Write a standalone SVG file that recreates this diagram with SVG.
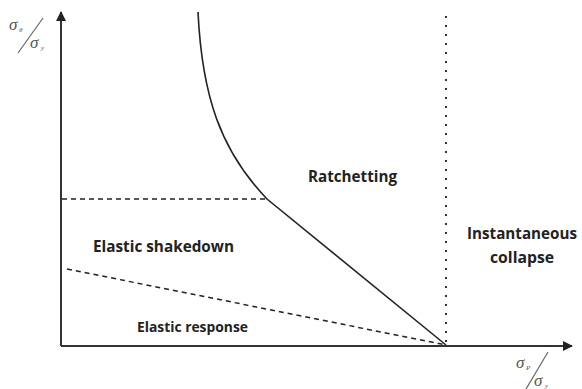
<svg xmlns="http://www.w3.org/2000/svg" width="582" height="389" viewBox="0 0 582 389">
<style>
.lbl{font-family:"Open Sans","Liberation Sans",sans-serif;font-weight:bold;fill:#222}
.sym{font-family:"Liberation Serif",serif;font-style:italic;fill:#555}
.dash{stroke:#222;stroke-width:1.5;fill:none;stroke-dasharray:5 4}
.dot{stroke:#333;stroke-width:2;fill:none;stroke-dasharray:2 7}
.solid{stroke:#222;stroke-width:1.6;fill:none}
.axis{stroke:#333;stroke-width:2;fill:none}
</style>
<defs>
<marker id="arr" viewBox="0 0 10 10" refX="9" refY="5" markerWidth="5" markerHeight="5" orient="auto" markerUnits="strokeWidth">
<path d="M0,0 L10,5 L0,10 z" fill="#222"/>
</marker>
</defs>
<g id="connectors">
<path id="y-axis" class="axis" d="M61,346 L61,12" marker-end="url(#arr)"/>
<path id="x-axis" class="axis" d="M61,346 L572,346" marker-end="url(#arr)"/>
<path id="collapse-limit" class="dot" d="M446,16 L446,345"/>
<path id="shakedown-limit" class="dash" d="M62,199 L267,199"/>
<path id="elastic-limit" class="dash" d="M67,269 L446,345"/>
<path id="ratchet-boundary" class="solid" d="M198,12 C202,95 220,150 267,199 L446,345"/>
</g>
<g id="axis-labels">
<g id="y-label">
<text class="sym" x="9" y="30" font-size="17">σ</text>
<text class="sym" x="19" y="32" font-size="7">θ</text>
<line x1="18" y1="53" x2="43" y2="18" stroke="#666" stroke-width="1.2"/>
<text class="sym" x="30" y="48" font-size="17">σ</text>
<text class="sym" x="41" y="50" font-size="7">y</text>
</g>
<g id="x-label">
<text class="sym" x="516" y="368" font-size="17">σ</text>
<text class="sym" x="526" y="370" font-size="7">P</text>
<line x1="526" y1="389" x2="548" y2="352" stroke="#666" stroke-width="1.2"/>
<text class="sym" x="534" y="386" font-size="17">σ</text>
<text class="sym" x="545" y="388" font-size="7">y</text>
</g>
</g>
<g id="ratchetting"><text class="lbl" x="308" y="182" font-size="16" textLength="89" lengthAdjust="spacingAndGlyphs">Ratchetting</text></g>
<g id="elastic-shakedown"><text class="lbl" x="93" y="252" font-size="16" textLength="141" lengthAdjust="spacingAndGlyphs">Elastic shakedown</text></g>
<g id="elastic-response"><text class="lbl" x="137" y="332" font-size="13.5" textLength="111" lengthAdjust="spacingAndGlyphs">Elastic response</text></g>
<g id="instantaneous-collapse">
<text class="lbl" x="467" y="239" font-size="16" textLength="110" lengthAdjust="spacingAndGlyphs">Instantaneous</text>
<text class="lbl" x="522" y="263" font-size="16" text-anchor="middle" textLength="64" lengthAdjust="spacingAndGlyphs">collapse</text>
</g>
</svg>
